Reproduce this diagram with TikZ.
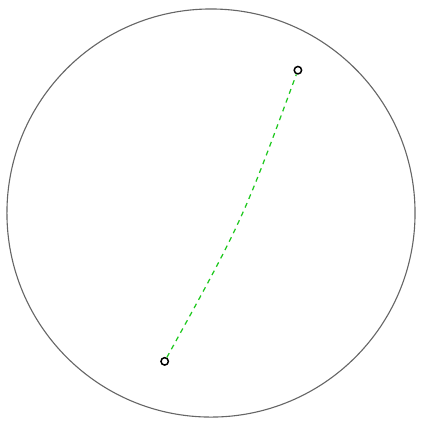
\documentclass[tikz,border=0pt]{standalone}
\usepackage{xcolor}
\usetikzlibrary{calc,positioning}
\definecolor{geogreen}{RGB}{30,200,30}
\tikzset{pt/.style={circle,draw=black,fill=white,line width=0.6pt,inner sep=0pt,minimum size=3pt},
  geo/.style={geogreen,line width=0.5pt,dash pattern=on 2pt off 1.8pt}}
\begin{document}
\begin{tikzpicture}[x=2.9cm,y=2.9cm,font=\small]
\useasboundingbox (-1.034,-1.029) rectangle (1.039,1.044);
\draw[black!60,line width=0.45pt] (0,0) circle (1);
\coordinate (ctl) at (0.154,-0.038);
\node[pt] (pa) at (-0.227,-0.727) {};
\node[pt] (pb) at (0.426,0.700) {};
\draw[geo] (pa) .. controls (ctl) .. (pb);
\end{tikzpicture}
\end{document}
